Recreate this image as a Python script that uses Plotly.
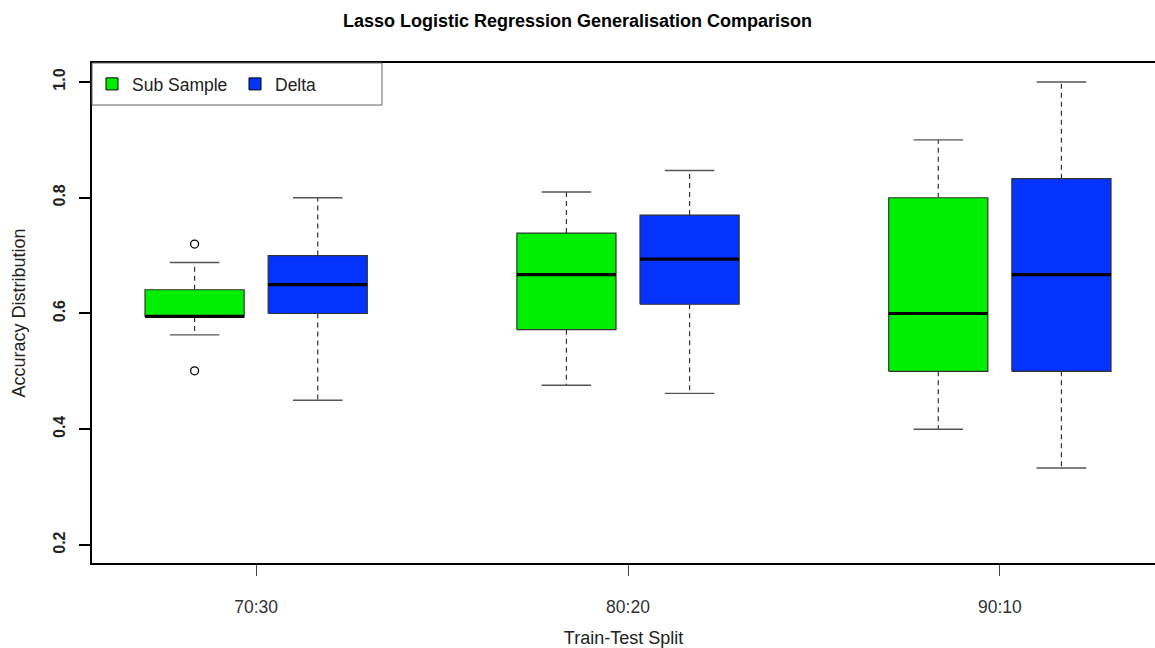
import plotly.graph_objects as go

# Train-test splits on the x axis
splits = ["70:30", "80:20", "90:10"]

# Sub Sample accuracy summary per split
sub_lower = [0.563, 0.476, 0.400]
sub_q1 = [0.594, 0.572, 0.500]
sub_median = [0.595, 0.667, 0.600]
sub_q3 = [0.641, 0.739, 0.800]
sub_upper = [0.688, 0.810, 0.900]
sub_outliers = [[0.720, 0.501], [], []]

# Delta accuracy summary per split
delta_lower = [0.450, 0.462, 0.333]
delta_q1 = [0.600, 0.616, 0.500]
delta_median = [0.650, 0.694, 0.667]
delta_q3 = [0.700, 0.770, 0.833]
delta_upper = [0.800, 0.847, 1.000]
delta_outliers = [[], [], []]

y_ticks = [0.2, 0.4, 0.6, 0.8, 1.0]

GREEN = "#00EF00"
BLUE = "#0433FF"
FONT = "Liberation Sans, Arial, Helvetica, sans-serif"

offset = 0.1656      # distance of each box from its group centre
half_box = 0.1333    # half box width
half_cap = 0.0666    # half whisker cap width

fig = go.Figure()


def add_box(xc, lo, q1, med, q3, hi, outs, color):
    # dashed whiskers
    fig.add_trace(go.Scatter(
        x=[xc, xc, None, xc, xc], y=[q3, hi, None, q1, lo], mode="lines",
        line=dict(color="#333333", width=1.2, dash="5px,4px"),
        showlegend=False, hoverinfo="skip"))
    # whisker caps
    fig.add_trace(go.Scatter(
        x=[xc - half_cap, xc + half_cap, None, xc - half_cap, xc + half_cap],
        y=[hi, hi, None, lo, lo], mode="lines",
        line=dict(color="#555555", width=1.4),
        showlegend=False, hoverinfo="skip"))
    # box body
    fig.add_trace(go.Scatter(
        x=[xc - half_box, xc + half_box, xc + half_box, xc - half_box, xc - half_box],
        y=[q1, q1, q3, q3, q1], mode="lines", fill="toself", fillcolor=color,
        line=dict(color="#333333", width=1.2),
        showlegend=False, hoverinfo="skip"))
    # median
    fig.add_trace(go.Scatter(
        x=[xc - half_box, xc + half_box], y=[med, med], mode="lines",
        line=dict(color="black", width=3.2),
        showlegend=False, hoverinfo="skip"))
    # outliers
    if outs:
        fig.add_trace(go.Scatter(
            x=[xc] * len(outs), y=outs, mode="markers",
            marker=dict(symbol="circle-open", size=8, color="black",
                        line=dict(width=1.3)),
            showlegend=False, hoverinfo="skip"))


for i in range(len(splits)):
    centre = i + 1
    add_box(centre - offset, sub_lower[i], sub_q1[i], sub_median[i],
            sub_q3[i], sub_upper[i], sub_outliers[i], GREEN)
    add_box(centre + offset, delta_lower[i], delta_q1[i], delta_median[i],
            delta_q3[i], delta_upper[i], delta_outliers[i], BLUE)

# legend entries
for name, color in [("Sub Sample", GREEN), ("Delta", BLUE)]:
    fig.add_trace(go.Scatter(
        x=[None], y=[None], mode="markers", name=name,
        marker=dict(symbol="square", size=12, color=color,
                    line=dict(color="black", width=1))))

# framed legend panel in the top-left corner of the plot area
PLOT_W, PLOT_H = 1063, 500
fig.add_shape(type="rect", xref="paper", yref="paper",
              x0=0, x1=290 / PLOT_W, y0=1 - 42 / PLOT_H, y1=1,
              line=dict(color="#666666", width=1), fillcolor="white",
              layer="above")

fig.update_layout(
    width=1155, height=648,
    margin=dict(l=92, r=0, t=63, b=85),
    plot_bgcolor="white", paper_bgcolor="white",
    font=dict(family=FONT, color="#222222"),
    title=dict(text="<b>Lasso Logistic Regression Generalisation Comparison</b>",
               x=0.5, xanchor="center", y=0.968, yanchor="middle",
               font=dict(size=18, color="black")),
    showlegend=True,
    legend=dict(orientation="h", x=0, y=1 - 21 / PLOT_H,
                xanchor="left", yanchor="middle",
                bgcolor="rgba(0,0,0,0)", borderwidth=0,
                font=dict(size=17.5, color="#222222"),
                itemwidth=30, entrywidth=98),
    xaxis=dict(
        range=[1 - 164 / 371.5, 3 + 155 / 371.5],
        tickmode="array", tickvals=[1, 2, 3], ticktext=splits,
        ticks="outside", ticklen=11, tickwidth=1, tickcolor="#444444",
        tickfont=dict(size=17.5, color="#333333"),
        ticklabelstandoff=16,
        showline=True, linecolor="black", linewidth=2, mirror=True,
        showgrid=False, zeroline=False,
        title=dict(text="Train-Test Split", font=dict(size=18, color="#222222"),
                   standoff=16),
    ),
    yaxis=dict(
        range=[0.1689, 1.0328],
        tickmode="array", tickvals=y_ticks,
        ticktext=[f"<b>{v:.1f}</b>" for v in y_ticks],
        tickangle=-90,
        ticks="outside", ticklen=11, tickwidth=1.5, tickcolor="black",
        tickfont=dict(size=16, color="#222222"),
        ticklabelstandoff=8,
        showline=True, linecolor="black", linewidth=2,
        showgrid=False, zeroline=False,
        title=dict(text="Accuracy Distribution", font=dict(size=18, color="#222222"),
                   standoff=20),
    ),
)

fig.write_html("out.html")
